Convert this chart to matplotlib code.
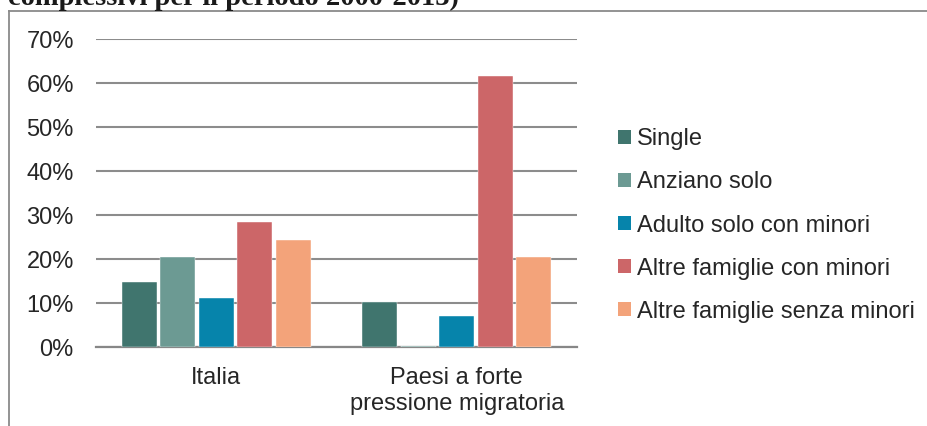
import numpy as np
import matplotlib
matplotlib.use('Agg')
import matplotlib.pyplot as plt
from matplotlib.lines import Line2D
from matplotlib.patches import Patch

plt.rcParams['font.family'] = ['Liberation Sans', 'DejaVu Sans']

# ====== Data ======
categories = ['Italia', 'Paesi a forte\npressione migratoria']
series_names = ['Single', 'Anziano solo', 'Adulto solo con minori',
                'Altre famiglie con minori', 'Altre famiglie senza minori']
single = [0.149, 0.103]
anziano_solo = [0.205, 0.004]
adulto_solo_minori = [0.113, 0.071]
altre_con_minori = [0.285, 0.617]
altre_senza_minori = [0.245, 0.205]
yticks = [0.0, 0.1, 0.2, 0.3, 0.4, 0.5, 0.6, 0.7]
ytick_labels = ['0%', '10%', '20%', '30%', '40%', '50%', '60%', '70%']

series = [single, anziano_solo, adulto_solo_minori, altre_con_minori, altre_senza_minori]
colors = ['#40756E', '#6C9A93', '#0684AB', '#CC6668', '#F3A37A']
text_color = '#262626'
grid_color = '#8C8C8C'

# ====== Figure ======
W, H = 928, 426
fig = plt.figure(figsize=(W / 100, H / 100), dpi=100)
ax = fig.add_axes([96 / W, 1 - 347.3 / H, (577 - 96) / W, (347.3 - 39.3) / H])

x = np.arange(len(categories))
slot = 0.16
width = 0.1455
for i, (name, vals) in enumerate(zip(series_names, series)):
    ax.bar(x + (i - 2) * slot, vals, width, color=colors[i],
           edgecolor='white', linewidth=0.3, label=name, zorder=3)

ax.set_xlim(-0.5, 1.5)
ax.set_ylim(0, 0.7)
ax.set_yticks(yticks)
ax.set_yticklabels(ytick_labels)
ax.set_xticks(x)
ax.set_xticklabels(categories, linespacing=1.25)
ax.tick_params(axis='y', length=0, pad=16, labelsize=17, labelcolor=text_color)
ax.tick_params(axis='x', length=0, pad=14, labelsize=17, labelcolor=text_color)
ax.yaxis.grid(True, color=grid_color, linewidth=1.5, zorder=0)
ax.set_axisbelow(True)
for side in ['left', 'right', 'top']:
    ax.spines[side].set_visible(False)
ax.spines['bottom'].set_color('#878787')
ax.spines['bottom'].set_linewidth(1.6)
ax.spines['bottom'].set_zorder(2)

# Legend on the right
handles = [Patch(facecolor=c, edgecolor='none') for c in colors]
fig.legend(handles, series_names, loc='center left',
           bbox_to_anchor=(618 / W, 1 - 225.5 / H), frameon=False,
           fontsize=17, labelcolor=text_color, borderpad=0, borderaxespad=0,
           handlelength=0.55, handleheight=0.55, handletextpad=0.25,
           labelspacing=0.89)

# Frame around the chart (open at bottom/right)
box_color = '#8A8A8A'
fig.add_artist(Line2D([9 / W, 9 / W], [0, 1 - 11 / H], color=box_color, linewidth=1.3))
fig.add_artist(Line2D([9 / W, 1], [1 - 11 / H, 1 - 11 / H], color=box_color, linewidth=1.3))

# Caption line running off the top edge
fig.text(8 / W, 1 - 5 / H, 'complessivi per il periodo 2000-2013)',
         fontsize=20.5, fontweight='bold', family='Liberation Serif',
         color='#1a1a1a', va='baseline', ha='left')

fig.savefig('out.png', dpi=100)
